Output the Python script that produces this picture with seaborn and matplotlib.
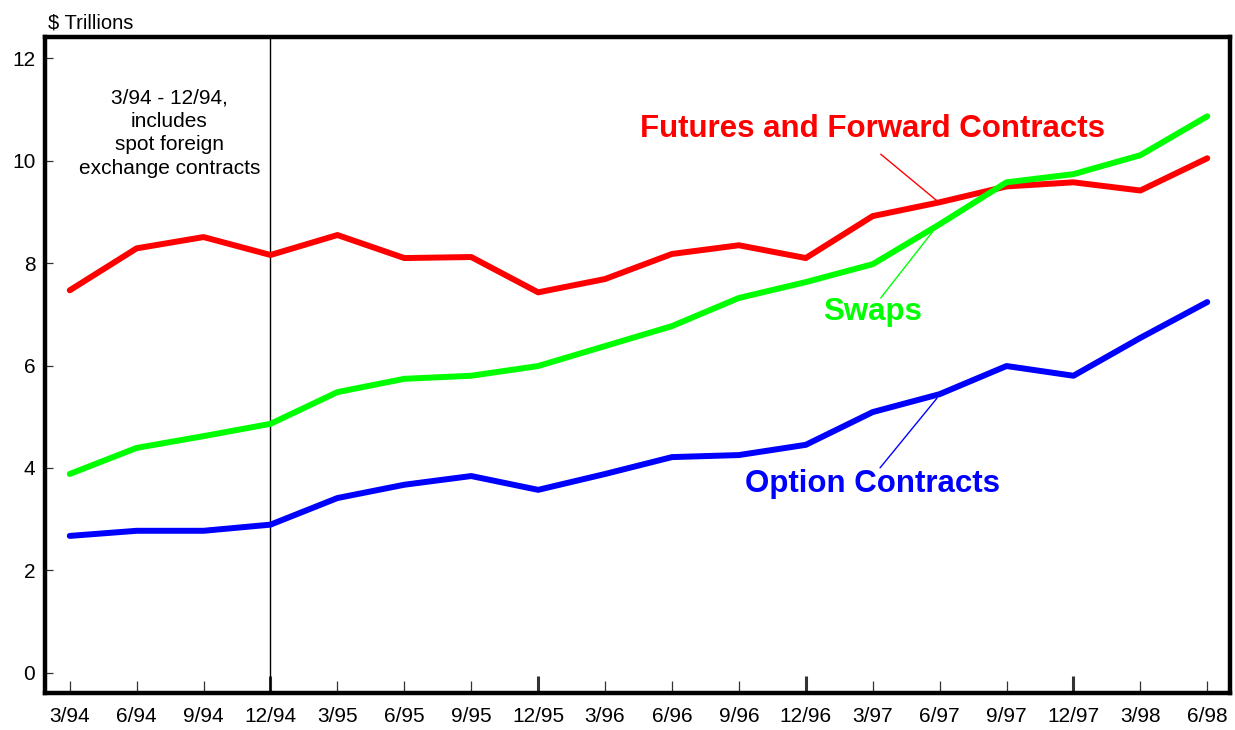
import numpy as np
import pandas as pd
import matplotlib
matplotlib.use("Agg")
import matplotlib.pyplot as plt
import seaborn as sns

# quarters and notional amounts ($ trillions)
quarters = ["3/94", "6/94", "9/94", "12/94", "3/95", "6/95", "9/95", "12/95", "3/96",
            "6/96", "9/96", "12/96", "3/97", "6/97", "9/97", "12/97", "3/98", "6/98"]
futures = [7.47, 8.29, 8.51, 8.16, 8.55, 8.10, 8.12, 7.43, 7.69,
           8.18, 8.35, 8.10, 8.92, 9.19, 9.50, 9.58, 9.42, 10.05]
swaps = [3.88, 4.39, 4.62, 4.86, 5.48, 5.74, 5.80, 5.99, 6.38,
         6.77, 7.32, 7.63, 7.98, 8.76, 9.58, 9.74, 10.11, 10.87]
options = [2.67, 2.77, 2.77, 2.89, 3.41, 3.67, 3.84, 3.57, 3.88,
           4.21, 4.25, 4.45, 5.09, 5.44, 5.99, 5.80, 6.54, 7.24]

series_names = ["Futures and Forward Contracts", "Swaps", "Option Contracts"]
series_colors = ["#FF0000", "#00FF00", "#0000FF"]

sns.set_style("white")
plt.rcParams['font.family'] = ['Liberation Sans', 'DejaVu Sans']
plt.rcParams['text.color'] = 'black'
plt.rcParams['xtick.labelcolor'] = 'black'
plt.rcParams['ytick.labelcolor'] = 'black'

# long table for seaborn
pos = np.arange(len(quarters))
df = pd.concat([
    pd.DataFrame({"pos": pos, "value": futures, "series": series_names[0]}),
    pd.DataFrame({"pos": pos, "value": swaps, "series": series_names[1]}),
    pd.DataFrame({"pos": pos, "value": options, "series": series_names[2]}),
])

fig = plt.figure(figsize=(12.35, 7.3), dpi=100)
ax = fig.add_axes([45/1235, 1-693/730, (1230-45)/1235, (693-37)/730])

sns.lineplot(data=df, x="pos", y="value", hue="series", hue_order=series_names,
             palette=series_colors, linewidth=4.3, estimator=None, sort=False,
             legend=False, ax=ax, solid_capstyle="round", solid_joinstyle="round")

ax.set_xlim(-0.37, 17.34)
ax.set_ylim(-0.40, 12.42)
ax.set_xlabel("")
ax.set_ylabel("")

# thin divider at 12/94
ax.axvline(3, color="black", lw=1.0, zorder=1)

for s in ax.spines.values():
    s.set_linewidth(3.2)
    s.set_color("black")

ax.set_yticks([0, 2, 4, 6, 8, 10, 12])
ax.set_xticks(pos)
ax.set_xticklabels(quarters)
ax.tick_params(axis="y", direction="in", length=6, width=0.9, color="#333333",
               labelsize=15, pad=7, left=True, labelcolor="black")
ax.tick_params(axis="x", direction="in", length=9, width=0.9, color="#333333",
               labelsize=15, pad=10, bottom=True, labelcolor="black")
for i, t in enumerate(ax.xaxis.get_major_ticks()):
    if quarters[i].startswith("12/"):
        t.tick1line.set_markersize(12)
        t.tick1line.set_markeredgewidth(2.2)
        t.tick1line.set_color("black")

# series labels with leader lines
ax.text(12.0, 10.47, series_names[0], color=series_colors[0], fontsize=22.5,
        fontweight="bold", ha="center", va="baseline")
ax.plot([12.12, 12.96], [10.13, 9.22], color=series_colors[0], lw=1.0)

ax.text(12.0, 6.89, series_names[1], color=series_colors[1], fontsize=22.5,
        fontweight="bold", ha="center", va="baseline")
ax.plot([12.12, 12.94], [7.32, 8.69], color=series_colors[1], lw=1.0)

ax.text(12.0, 3.52, series_names[2], color=series_colors[2], fontsize=22.5,
        fontweight="bold", ha="center", va="baseline")
ax.plot([12.11, 12.96], [4.00, 5.36], color=series_colors[2], lw=1.0)

ax.text(1.49, 10.54, "3/94 - 12/94,\nincludes\nspot foreign\nexchange contracts",
        fontsize=15, color="black", ha="center", va="center",
        multialignment="center", linespacing=1.3)

fig.text(48/1235, 1-28/730, "$ Trillions", fontsize=14.5, color="black",
         ha="left", va="baseline")

fig.savefig("out.png", dpi=100)
